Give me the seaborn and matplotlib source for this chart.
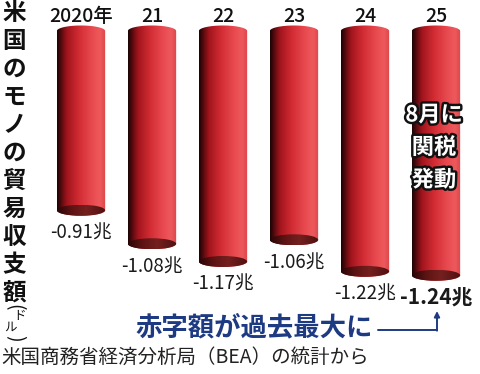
import numpy as np
import pandas as pd
import matplotlib
matplotlib.use('Agg')
import matplotlib.pyplot as plt
import seaborn as sns
from matplotlib.path import Path
from matplotlib.patches import PathPatch, Ellipse
from matplotlib.colors import LinearSegmentedColormap
from matplotlib.lines import Line2D
import matplotlib.patheffects as pe

# ---- data ----
years = ['2020年', '21', '22', '23', '24', '25']
values = [-0.91, -1.08, -1.17, -1.06, -1.22, -1.24]
value_labels = ['-0.91兆', '-1.08兆', '-1.17兆', '-1.06兆', '-1.22兆', '-1.24兆']
title_chars = list('米国のモノの貿易収支額')
unit_chars = ['ド', 'ル']
note_lines = ['8月に', '関税', '発動']
callout = '赤字額が過去最大に'
source = '米国商務省経済分析局（BEA）の統計から'

sns.set_theme(style='white')
plt.rcParams['font.family'] = ['Noto Sans CJK JP', 'DejaVu Sans']

W, H = 480, 374
fig = plt.figure(figsize=(W / 100, H / 100), dpi=100)
fig.patch.set_facecolor('white')
ax = fig.add_axes([0, 0, 1, 1])

PX, PY = 71.0, 197.0   # pixels per category / per unit
X0, Y0 = 81.0, 31.0    # pixel position of first category / zero line

df = pd.DataFrame({'year': years, 'value': values})
sns.barplot(data=df, x='year', y='value', color='#d8343c', saturation=1,
            width=0.68, ax=ax)
ax.set_xlim(-X0 / PX, (W - X0) / PX)
ax.set_ylim(-(H - Y0) / PY, Y0 / PY)
ax.axis('off')

def fx(px):
    return px / W

def fy(py):
    return 1 - py / H

body_cmap = LinearSegmentedColormap.from_list('body', [
    (0.0, '#1a0303'), (0.07, '#4a0a0d'), (0.2, '#a0141c'), (0.45, '#d22c34'),
    (0.72, '#e84a50'), (0.88, '#ed5a5c'), (1.0, '#dc444a')])
face_cmap = LinearSegmentedColormap.from_list('face', [
    (0.0, '#2a0505'), (0.3, '#5e1414'), (0.6, '#74201f'), (1.0, '#4e1010')])
grad = np.linspace(0, 1, 256).reshape(1, -1)
hh = 5.5 / PY

for p in list(ax.patches):
    x, w = p.get_x(), p.get_width()
    y1, y2 = p.get_y(), p.get_y() + p.get_height()
    top, bot = max(y1, y2), min(y1, y2)
    cx = x + w / 2
    t1 = np.linspace(np.pi, 0, 80)
    t2 = np.linspace(0, -np.pi, 80)
    xs = np.concatenate([cx + w / 2 * np.cos(t1), cx + w / 2 * np.cos(t2)])
    ys = np.concatenate([top + hh * np.sin(t1), bot + hh * np.sin(t2)])
    verts = np.column_stack([xs, ys])
    verts = np.vstack([verts, verts[:1]])
    codes = [Path.MOVETO] + [Path.LINETO] * (len(verts) - 2) + [Path.CLOSEPOLY]
    clip = PathPatch(Path(verts, codes), transform=ax.transData,
                     facecolor='none', edgecolor='none')
    ax.add_patch(clip)
    im = ax.imshow(grad, cmap=body_cmap, extent=[x, x + w, bot - hh, top + hh],
                   aspect='auto', interpolation='bicubic', zorder=2)
    im.set_clip_path(clip)
    ell = Ellipse((cx, bot), w, 2 * hh, transform=ax.transData,
                  facecolor='none', edgecolor='none')
    ax.add_patch(ell)
    im2 = ax.imshow(grad, cmap=face_cmap, extent=[x, x + w, bot - hh, bot + hh],
                    aspect='auto', interpolation='bicubic', zorder=3)
    im2.set_clip_path(ell)
    p.set_alpha(0)

ax.set_xlim(-X0 / PX, (W - X0) / PX)
ax.set_ylim(-(H - Y0) / PY, Y0 / PY)
ax.set_aspect('auto')

# year labels
for i, yl in enumerate(years):
    ax.text(i, (Y0 - 16) / PY, yl, ha='center', va='center', fontsize=14,
            fontweight='medium', color='#111111')

# value labels
for i, (v, lab) in enumerate(zip(values, value_labels)):
    last = i == len(values) - 1
    ax.text(i, v - 23 / PY, lab, ha='center', va='center',
            fontsize=15 if last else 13.5,
            fontweight='bold' if last else 'normal', color='#1a1a1a')

# vertical title
for k, ch in enumerate(title_chars):
    fig.text(fx(14), fy(13 + 28.0 * k), ch, ha='center', va='center',
             fontsize=17, fontweight='bold', color='#111111')
fig.text(fx(14), fy(307), '(', rotation=-90, ha='center', va='center',
         fontsize=14, color='#111111')
fig.text(fx(20), fy(316), unit_chars[0], ha='center', va='center',
         fontsize=9, color='#111111')
fig.text(fx(10), fy(327), unit_chars[1], ha='center', va='center',
         fontsize=9, color='#111111')
fig.text(fx(14), fy(338), ')', rotation=-90, ha='center', va='center',
         fontsize=14, color='#111111')

# note
for k, line in enumerate(note_lines):
    fig.text(fx(434), fy(115 + 32.5 * k), line, ha='center', va='center',
             fontsize=16, fontweight='bold', color='white',
             path_effects=[pe.withStroke(linewidth=3.5, foreground='#111111')])

# callout
blue = '#1d3a82'
fig.text(fx(373), fy(328), callout, ha='right', va='center', fontsize=19,
         fontweight='bold', color=blue)
fig.add_artist(Line2D([fx(378), fx(437)], [fy(330), fy(330)], color=blue,
                      lw=1.4, transform=fig.transFigure))
ax.annotate('', xy=(fx(437), fy(311)), xytext=(fx(437), fy(330.7)),
            xycoords='figure fraction', textcoords='figure fraction',
            arrowprops=dict(arrowstyle='-|>', color=blue, lw=1.4,
                            mutation_scale=8, shrinkA=0, shrinkB=0))

# source
fig.text(fx(1), fy(357), source, ha='left', va='center', fontsize=14,
         color='#222222')

fig.savefig('out.png', dpi=100, facecolor='white')
